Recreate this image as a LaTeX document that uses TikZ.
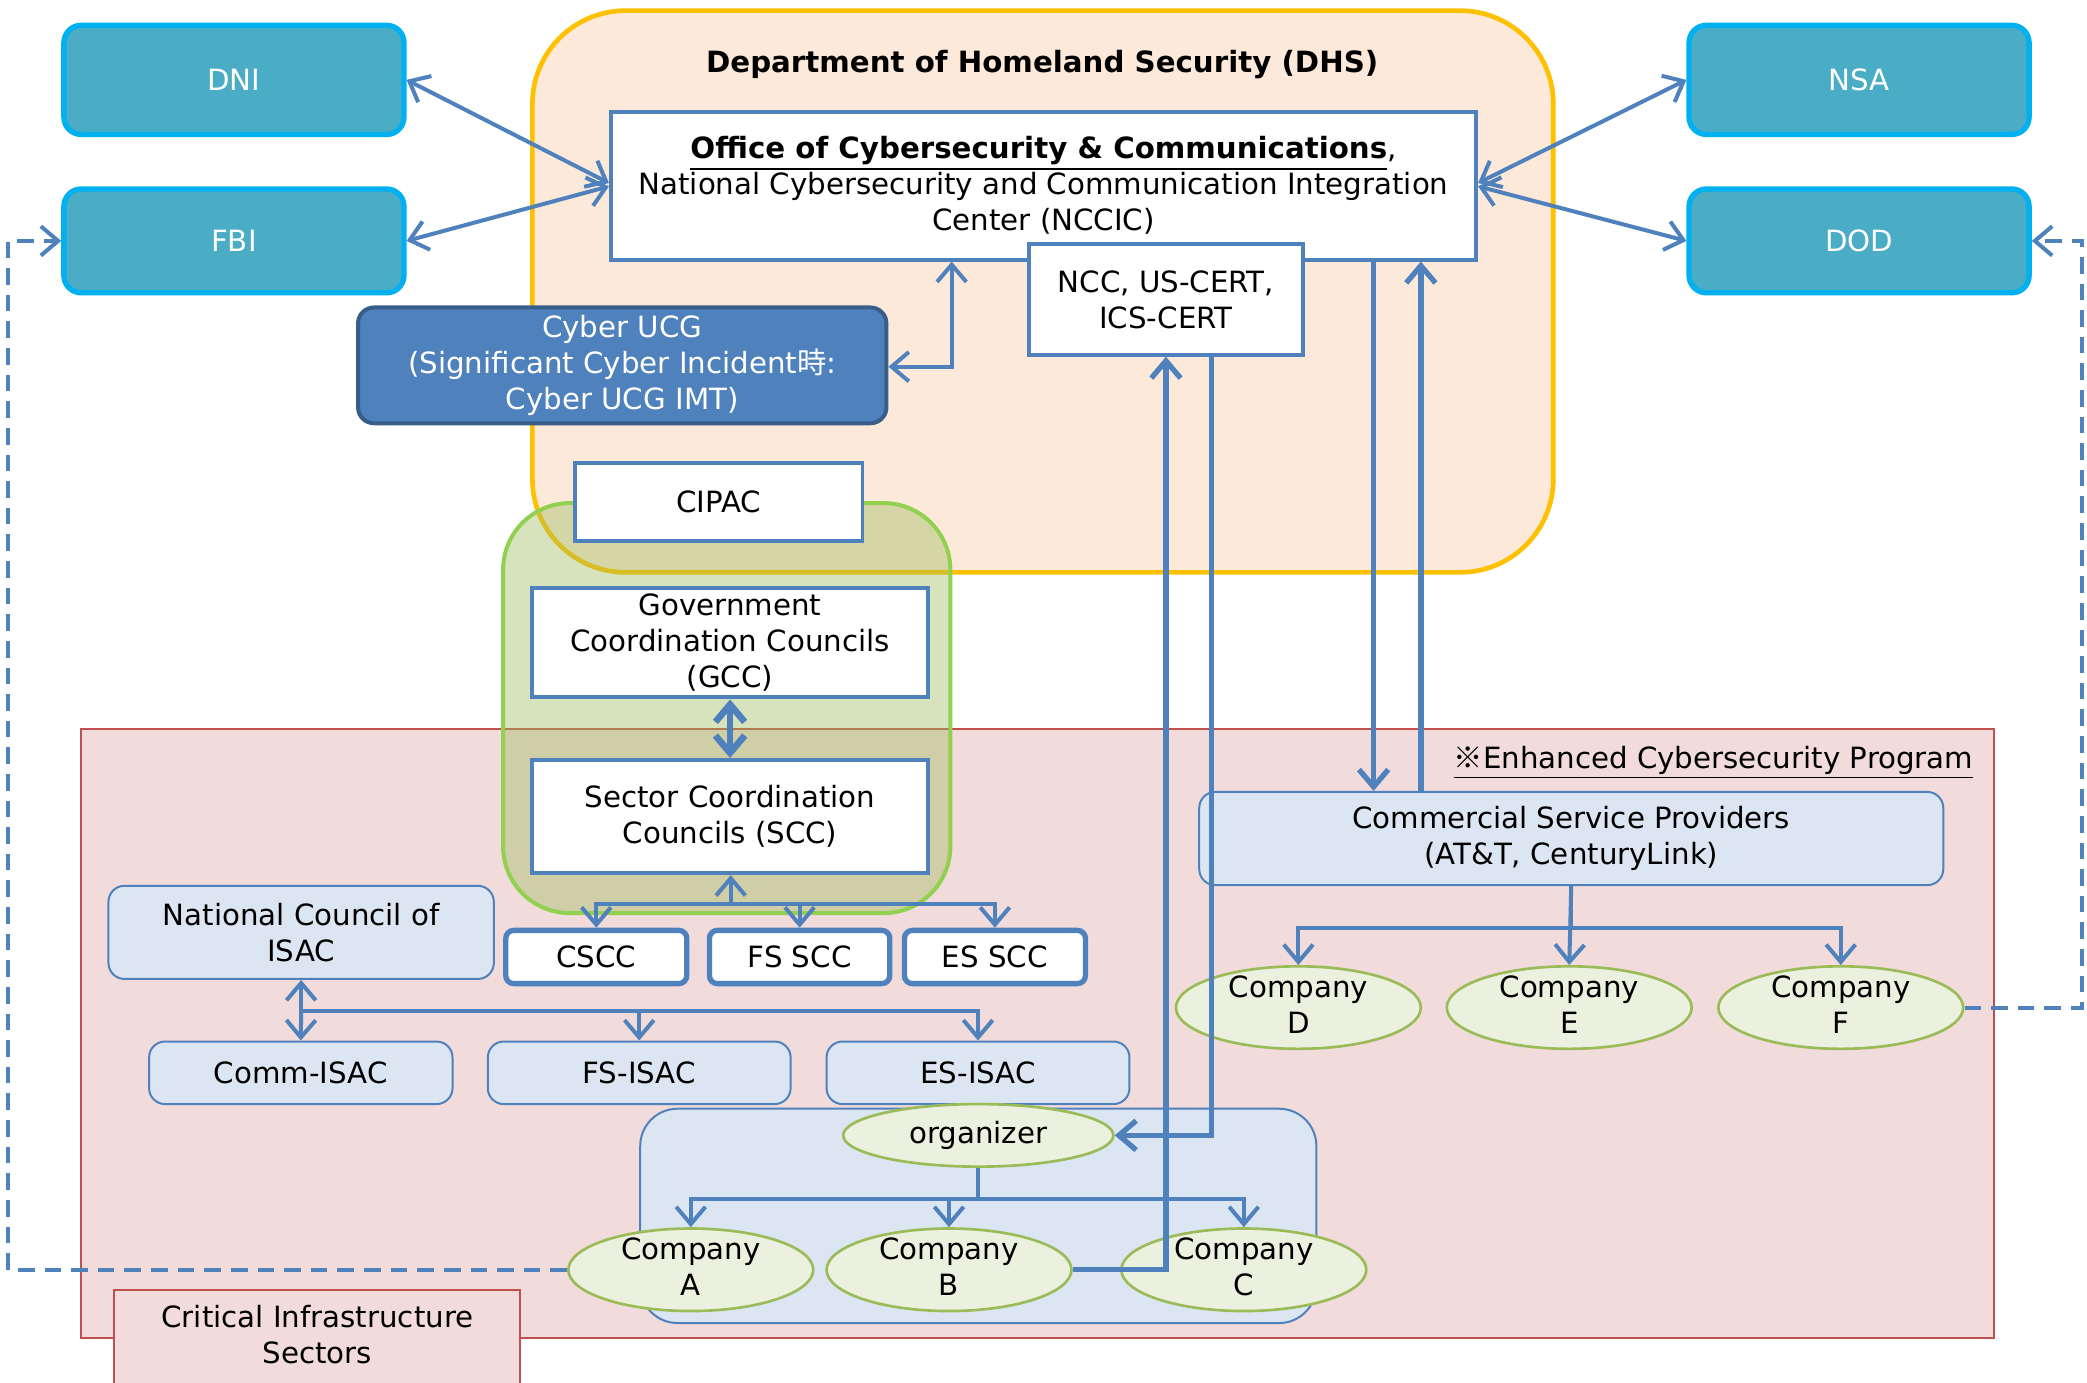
\documentclass[tikz,border=0pt]{standalone}
\usepackage{fontspec}
\setmainfont{DejaVu Sans}
\newfontfamily\cjk{Noto Sans CJK JP}
\usetikzlibrary{arrows.meta,shapes.geometric,calc}
\definecolor{lineblue}{HTML}{4F81BD}
\definecolor{agencyfill}{HTML}{4BACC6}
\definecolor{agencyborder}{HTML}{00B0F0}
\definecolor{dhsfill}{HTML}{FDE9D9}
\definecolor{dhsborder}{HTML}{FFC000}
\definecolor{cisfill}{HTML}{F2DCDB}
\definecolor{cisborder}{HTML}{C0504D}
\definecolor{lbfill}{HTML}{DCE6F2}
\definecolor{efill}{HTML}{EBF1DE}
\definecolor{eborder}{HTML}{9BBB59}
\definecolor{grpfill}{HTML}{9BBB59}
\definecolor{grpborder}{HTML}{92D050}
\definecolor{ucgborder}{HTML}{385D8A}
\newcommand\fsz{\fontsize{11pt}{13.5pt}\selectfont}
\newcommand\thickul[1]{\underline{#1}}
\tikzset{
  agencybox/.style={draw=agencyborder, fill=agencyfill, line width=2pt, rounded corners=6.5pt, text=white, inner sep=0pt, minimum width=127.75pt},
  wbox/.style={draw=lineblue, fill=white, line width=1.5pt, inner sep=0pt, align=center},
  lbbox/.style={draw=lineblue, fill=lbfill, line width=0.75pt, rounded corners=6pt, inner sep=0pt, align=center},
  sbox/.style={draw=lineblue, fill=white, line width=2pt, rounded corners=3pt, inner sep=0pt, minimum height=20pt},
  compell/.style={ellipse, draw=eborder, fill=efill, line width=1pt, inner sep=0pt, minimum width=92pt, minimum height=31pt},
  txt/.style={align=center, inner sep=0pt},
  conn/.style={draw=lineblue, line width=1.5pt},
  bigconn/.style={draw=lineblue, line width=2pt},
  dconn/.style={draw=lineblue, line width=1.5pt, dash pattern=on 6.25pt off 3.75pt},
  endtip/.style={-{Straight Barb[length=6.5pt,width=11pt]}},
  bothtips/.style={{Straight Barb[length=6.5pt,width=11pt]}-{Straight Barb[length=6.5pt,width=11pt]}},
}
\begin{document}
\begin{tikzpicture}[x=0.5pt,y=-0.5pt, every node/.style={font=\fsz}]
\clip (0,0) rectangle (1568,1039);
\fill[white] (0,0) rectangle (1568,1039);

% DHS area
\draw[draw=dhsborder, fill=dhsfill, line width=1.75pt, rounded corners=35pt] (400,8) rectangle (1167,430);
\node[font=\fsz\bfseries] (dhstitle) at (783,48.5) {Department of Homeland Security (DHS)};

% Critical infrastructure area
\draw[draw=cisborder, fill=cisfill, line width=0.75pt] (61,548) rectangle (1498,1005);
\node[anchor=east, inner sep=0pt] (ecp) at (1483,573) {\thickul{{\cjk ※}Enhanced Cybersecurity Program}};
\draw[draw=cisborder, fill=cisfill, line width=0.75pt] (86,969) rectangle (391,1070);
\node[txt] (cis) at (238.5,1002.5) {Critical Infrastructure\\Sectors};

% boxes in the sector area
\node[lbbox, minimum width=279.5pt, minimum height=35pt] (csp) at (1180.5,630) {Commercial Service Providers\\(AT\&T, CenturyLink)};
\node[lbbox, minimum width=144.75pt, minimum height=35pt] (ncisac) at (226.25,700.5) {National Council of\\ISAC};
\node[lbbox, minimum width=114pt, minimum height=23.5pt] (comm) at (226,806) {Comm-ISAC};
\node[lbbox, minimum width=113.75pt, minimum height=23.5pt] (fsisac) at (480.25,806) {FS-ISAC};
\node[lbbox, minimum width=113.8pt, minimum height=23.5pt] (esisac) at (734.8,806) {ES-ISAC};
\node[lbbox, rounded corners=14pt, minimum width=254pt, minimum height=80.5pt] (orggrp) at (735,913.5) {};
\node[compell, minimum width=101.5pt, minimum height=23.5pt] (organizer) at (735,853) {organizer};

\node[compell] (ca) at (519,954) {};
\node[compell] (cb) at (713,954) {};
\node[compell] (cc) at (934.5,954) {};
\node[compell] (cd) at (975.5,757) {};
\node[compell] (ce) at (1179,757) {};
\node[compell] (cf) at (1383,757) {};
\node[txt] (cat) at ($(ca)+(0,-2.5)$) {Company\\A};
\node[txt] (cbt) at ($(cb)+(0,-2.5)$) {Company\\B};
\node[txt] (cct) at ($(cc)+(0,-2.5)$) {Company\\C};
\node[txt] (cdt) at ($(cd)+(0,-2.5)$) {Company\\D};
\node[txt] (cet) at ($(ce)+(0,-2.5)$) {Company\\E};
\node[txt] (cft) at ($(cf)+(0,-2.5)$) {Company\\F};

% green coordination group
\draw[draw=grpborder, fill=grpfill, fill opacity=0.4, line width=1.5pt, rounded corners=25pt] (378,378) rectangle (714,686);
\node[wbox, minimum width=108pt, minimum height=29.5pt] (cipac) at (540,377) {CIPAC};
\node[wbox, minimum width=148.5pt, minimum height=41pt] (gcc) at (548.5,483) {Government\\Coordination Councils\\(GCC)};
\node[wbox, minimum width=148.5pt, minimum height=42.5pt] (scc) at (548.5,613.5) {Sector Coordination\\Councils (SCC)};
\node[sbox, minimum width=68pt] (cscc) at (448,719) {CSCC};
\node[sbox, minimum width=67.75pt] (fsscc) at (600.75,719) {FS SCC};
\node[sbox, minimum width=68pt] (esscc) at (747.5,719) {ES SCC};

% DHS internal boxes
\node[wbox, minimum width=325pt, minimum height=55.5pt] (office) at (784,139.5) {\textbf{\underline{Office of Cybersecurity \& Communications}},\\National Cybersecurity and Communication Integration\\Center (NCCIC)};
\node[wbox, minimum width=103pt, minimum height=41.5pt] (ncc) at (876,225) {NCC, US-CERT,\\ICS-CERT};
\node[draw=ucgborder, fill=lineblue, line width=1.5pt, rounded corners=6pt, inner sep=0pt, align=center, text=white, minimum width=198.5pt, minimum height=43.5pt] (ucg) at (467.5,274.5) {Cyber UCG\\(Significant Cyber Incident{\cjk 時}:\\Cyber UCG IMT)};

% agencies
\node[agencybox, minimum height=41pt] (dni) at (175.75,60) {DNI};
\node[agencybox, minimum height=39pt] (fbi) at (175.75,181) {FBI};
\node[agencybox, minimum height=41pt] (nsa) at (1396.75,60) {NSA};
\node[agencybox, minimum height=39pt] (dod) at (1396.75,181) {DOD};

% agency connectors
\draw[conn, bothtips] (dni.east) -- ($(office.west)+(0,-2)$);
\draw[conn, bothtips] (fbi.east) -- ($(office.west)+(0,0.5)$);
\draw[conn, bothtips] (nsa.west) -- ($(office.east)+(0,-2)$);
\draw[conn, bothtips] (dod.west) -- ($(office.east)+(0,0.5)$);

% Cyber UCG
\draw[conn, bothtips] ($(ucg.east)+(0,1)$) -| ($(office.south)+(-69,0)$);

% GCC <-> SCC
\draw[draw=lineblue, line width=2.5pt, bothtips] (gcc.south) -- (scc.north);

% SCC tree
\draw[conn, endtip] ($(scc.south)+(0.5,22)$) -- ($(scc.south)+(0.5,0)$);
\draw[conn, endtip] ($(scc.south)+(0.5,22)$) -| (cscc.north);
\draw[conn, endtip] ($(scc.south)+(0.5,22)$) -| (fsscc.north);
\draw[conn, endtip] ($(scc.south)+(0.5,22)$) -| (esscc.north);

% ISAC tree
\draw[conn, endtip] ($(ncisac.south)+(0,23.5)$) -- (ncisac.south);
\draw[conn, endtip] ($(ncisac.south)+(0,23.5)$) -- (comm.north);
\draw[conn, endtip] ($(ncisac.south)+(0,23.5)$) -| (fsisac.north);
\draw[conn, endtip] ($(ncisac.south)+(0,23.5)$) -| (esisac.north);

% CSP tree
\draw[conn, endtip] (csp.south) -- ++(0,31.5) -| (cd.north);
\draw[conn, endtip] (csp.south) -- (ce.north);
\draw[conn, endtip] (csp.south) -- ++(0,31.5) -| (cf.north);

% organizer tree
\draw[conn, endtip] (organizer.south) -- ++(0,23) -| (ca.north);
\draw[conn, endtip] (organizer.south) -- ++(0,23) -| (cb.north);
\draw[conn, endtip] (organizer.south) -- ++(0,23) -| (cc.north);

% long vertical connections
\draw[bigconn, endtip] (cb.east) -| (ncc.south);
\draw[bigconn, endtip] ($(ncc.south)+(34,0)$) |- (organizer.east);
\draw[bigconn, endtip] ($(office.south)+(248,0)$) -- ($(csp.north)+(-148.5,0)$);
\draw[bigconn, endtip] ($(csp.north)+(-113,0)$) -- ($(office.south)+(283.5,0)$);

% dashed connections
\draw[dconn, endtip] (ca.west) -| ($(fbi.west)+(-40,0)$) -- (fbi.west);
\draw[dconn, endtip] (cf.east) -| ($(dod.east)+(38,0)$) -- (dod.east);
\end{tikzpicture}
\end{document}
